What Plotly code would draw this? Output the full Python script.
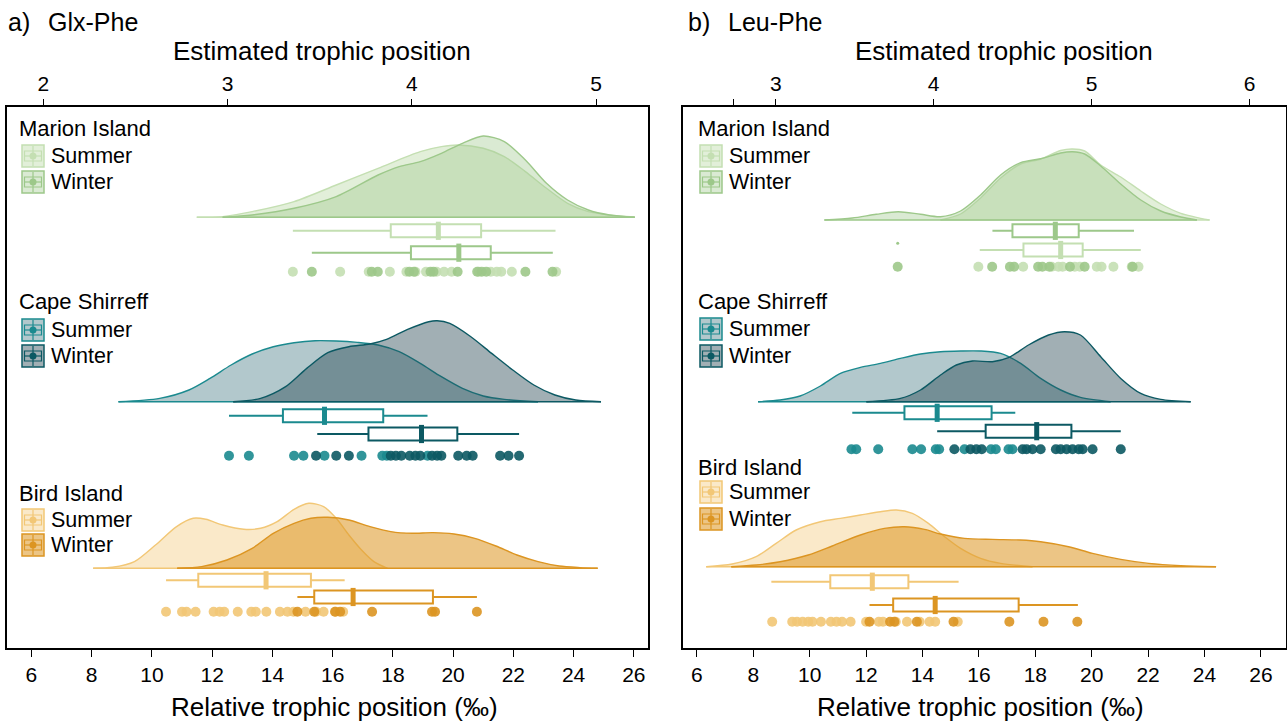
import plotly.graph_objects as go

W, H = 1287, 723

# ======================= DATA =======================
# ---------- Panel a) Glx-Phe ----------
a_marion_summer_pts = [14.68, 16.25, 17.2, 17.9, 18.45, 18.75, 19.1, 19.45, 19.7, 19.95, 20.85, 21.25, 21.45, 21.6, 21.95, 23.42]
a_marion_winter_pts = [15.31, 17.3, 17.5, 18.55, 18.7, 19.25, 19.35, 20.15, 20.8, 20.95, 21.1, 22.4, 23.3]
a_cape_summer_pts = [12.56, 13.22, 14.72, 15.03, 15.73, 16.96, 17.65, 17.8, 19.15]
a_cape_winter_pts = [15.45, 16.12, 16.54, 17.93, 18.1, 18.28, 18.56, 18.75, 18.91, 19.3, 19.47, 19.61, 20.17, 20.45, 20.65, 21.56, 21.84, 22.19]
a_bird_summer_pts = [10.47, 11.0, 11.15, 11.45, 12.05, 12.25, 12.4, 12.85, 13.3, 13.45, 13.8, 14.25, 14.5, 14.7, 15.1, 15.45, 15.7, 16.1, 16.35]
a_bird_winter_pts = [14.83, 15.39, 16.08, 16.25, 17.31, 19.3, 19.4, 20.79]

# box stats: lower whisker, q1, median, q3, upper whisker
a_marion_summer_box = [14.68, 17.93, 19.51, 20.93, 23.40]
a_marion_winter_box = [15.31, 18.60, 20.19, 21.25, 23.31]
a_cape_summer_box = [12.56, 14.35, 15.73, 17.68, 19.15]
a_cape_winter_box = [15.49, 17.19, 18.95, 20.14, 22.19]
a_bird_summer_box = [10.47, 11.54, 13.79, 15.28, 16.40]
a_bird_winter_box = [14.83, 15.39, 16.68, 19.33, 20.79]

# density curves (x in permil, relative density)
a_marion_summer_dx = [11.49, 12.35, 13.33, 14.72, 16.12, 17.51, 18.91, 19.61, 20.17, 21.0, 21.7, 22.4, 23.1, 23.8, 24.49, 25.19, 26.03]
a_marion_summer_dd = [0, 0.007, 0.057, 0.157, 0.323, 0.49, 0.657, 0.707, 0.723, 0.69, 0.607, 0.457, 0.29, 0.14, 0.057, 0.023, 0.003]
a_marion_winter_dx = [12.35, 13.33, 14.72, 16.12, 17.51, 18.21, 18.91, 19.61, 20.31, 21.0, 21.7, 22.4, 23.1, 23.8, 24.49, 25.19, 26.03]
a_marion_winter_dd = [0, 0.023, 0.09, 0.207, 0.423, 0.507, 0.557, 0.64, 0.74, 0.813, 0.757, 0.573, 0.34, 0.173, 0.073, 0.023, 0]
a_cape_summer_dx = [8.89, 10.26, 11.23, 11.93, 12.63, 13.33, 14.03, 14.72, 15.42, 16.12, 16.82, 17.51, 18.21, 18.91, 19.61, 20.31, 21.0, 21.7, 22.82]
a_cape_summer_dd = [0, 0.033, 0.117, 0.233, 0.367, 0.477, 0.55, 0.59, 0.61, 0.607, 0.593, 0.567, 0.5, 0.383, 0.25, 0.133, 0.057, 0.023, 0]
a_cape_winter_dx = [12.7, 13.61, 14.44, 15.14, 15.84, 16.54, 17.24, 17.79, 18.49, 19.19, 19.47, 19.89, 20.59, 21.28, 21.98, 22.68, 23.38, 24.07, 24.91]
a_cape_winter_dd = [0, 0.033, 0.15, 0.333, 0.49, 0.55, 0.577, 0.623, 0.723, 0.8, 0.81, 0.783, 0.65, 0.483, 0.317, 0.167, 0.067, 0.017, 0]
a_bird_summer_dx = [8.05, 8.69, 9.42, 10.12, 10.82, 11.37, 11.79, 12.35, 13.05, 13.61, 14.16, 14.72, 15.21, 15.7, 16.12, 16.54, 16.96, 17.37, 17.82]
a_bird_summer_dd = [0, 0.01, 0.067, 0.233, 0.417, 0.5, 0.49, 0.433, 0.39, 0.4, 0.467, 0.59, 0.65, 0.617, 0.5, 0.333, 0.183, 0.067, 0]
a_bird_winter_dx = [10.84, 11.65, 12.49, 13.33, 14.03, 14.72, 15.28, 15.84, 16.54, 17.24, 17.93, 18.63, 19.33, 20.03, 20.72, 21.42, 22.12, 22.82, 23.52, 24.21, 24.8]
a_bird_winter_dd = [0, 0.017, 0.083, 0.2, 0.35, 0.45, 0.5, 0.51, 0.483, 0.417, 0.367, 0.35, 0.357, 0.343, 0.3, 0.223, 0.133, 0.067, 0.023, 0.007, 0]

# ---------- Panel b) Leu-Phe ----------
b_marion_summer_pts = [15.98, 17.57, 18.58, 18.82, 18.97, 19.4, 19.58, 20.18, 20.35, 20.77, 21.42, 21.66]
b_marion_winter_pts = [13.12, 16.47, 17.1, 17.25, 18.1, 18.25, 18.5, 19.23, 19.75, 21.45]
b_cape_summer_pts = [11.48, 11.65, 12.43, 13.64, 13.95, 14.47, 14.59, 15.49, 16.43, 16.6, 17.05, 17.19]
b_cape_winter_pts = [15.13, 15.7, 15.91, 16.1, 17.55, 17.69, 17.9, 18.19, 18.73, 18.9, 19.11, 19.32, 19.54, 19.68, 20.03, 21.03]
b_bird_summer_pts = [8.67, 9.38, 9.55, 9.75, 9.95, 10.1, 10.4, 10.75, 10.95, 11.15, 11.45, 12.0, 12.45, 12.6, 13.05, 13.45, 13.9, 14.25, 14.45, 15.25]
b_bird_winter_pts = [12.12, 12.85, 13.0, 13.8, 15.1, 17.08, 18.29, 19.49]

b_marion_summer_box = [16.03, 17.58, 18.90, 19.68, 21.74]
b_marion_winter_box = [16.48, 17.19, 18.71, 19.54, 21.50]
b_marion_winter_outliers = [13.12]
b_cape_summer_box = [11.51, 13.36, 14.52, 16.45, 17.29]
b_cape_winter_box = [14.52, 16.24, 18.05, 19.28, 21.03]
b_bird_summer_box = [8.64, 10.73, 12.22, 13.50, 15.28]
b_bird_winter_box = [12.12, 12.96, 14.45, 17.41, 19.51]

b_marion_summer_dx = [14.64, 15.35, 16.06, 16.77, 17.48, 18.19, 18.9, 19.32, 19.75, 20.32, 21.03, 21.74, 22.45, 23.16, 24.18]
b_marion_summer_dd = [0, 0.06, 0.22, 0.42, 0.56, 0.61, 0.695, 0.71, 0.69, 0.55, 0.43, 0.29, 0.16, 0.067, 0]
b_marion_winter_dx = [10.52, 11.51, 12.36, 13.14, 13.93, 14.64, 15.35, 16.06, 16.77, 17.48, 18.19, 18.9, 19.32, 19.75, 20.32, 21.03, 21.74, 22.45, 23.16, 23.73]
b_marion_winter_dd = [0, 0.02, 0.057, 0.083, 0.057, 0.033, 0.09, 0.25, 0.45, 0.573, 0.613, 0.67, 0.683, 0.66, 0.54, 0.36, 0.2, 0.09, 0.03, 0]
b_cape_summer_dx = [8.17, 8.95, 9.66, 10.38, 11.09, 11.8, 12.51, 13.22, 13.93, 14.64, 15.35, 16.06, 16.77, 17.48, 18.19, 18.9, 19.6, 20.67]
b_cape_summer_dd = [0, 0.017, 0.057, 0.157, 0.283, 0.343, 0.383, 0.433, 0.477, 0.5, 0.507, 0.507, 0.483, 0.383, 0.233, 0.117, 0.043, 0]
b_cape_winter_dx = [12.01, 13.22, 13.93, 14.64, 15.2, 15.77, 16.48, 17.05, 17.76, 18.47, 19.04, 19.6, 20.32, 21.03, 21.74, 22.45, 23.51]
b_cape_winter_dd = [0, 0.033, 0.117, 0.267, 0.367, 0.407, 0.4, 0.44, 0.567, 0.667, 0.7, 0.667, 0.45, 0.233, 0.083, 0.023, 0]
b_bird_summer_dx = [6.33, 7.25, 8.1, 8.81, 9.52, 10.38, 11.09, 11.8, 12.51, 13.07, 13.64, 14.21, 14.78, 15.35, 16.06, 16.77, 17.9]
b_bird_summer_dd = [0, 0.027, 0.1, 0.233, 0.367, 0.45, 0.483, 0.517, 0.55, 0.567, 0.533, 0.433, 0.3, 0.183, 0.083, 0.033, 0]
b_bird_winter_dx = [7.22, 8.1, 8.95, 9.95, 10.8, 11.8, 12.65, 13.36, 14.07, 14.64, 15.49, 16.48, 17.48, 18.19, 19.18, 20.03, 21.03, 22.02, 23.16, 24.41]
b_bird_winter_dd = [0, 0.017, 0.05, 0.117, 0.207, 0.317, 0.383, 0.4, 0.373, 0.327, 0.283, 0.273, 0.267, 0.25, 0.2, 0.133, 0.073, 0.033, 0.01, 0]

# axis ticks
rel_ticks = [6, 8, 10, 12, 14, 16, 18, 20, 22, 24, 26]
a_tp_ticks = [2, 3, 4, 5]
b_tp_ticks = [2.73, 3, 4, 5, 6]
b_tp_ticktext = ["", "3", "4", "5", "6"]
sites = ["Marion Island", "Cape Shirreff", "Bird Island"]
seasons = ["Summer", "Winter"]

# ======================= STYLE =======================
FONT = "Liberation Sans, Arial, sans-serif"
DS = 100.0  # y-units per density unit
COL = {
    "Marion Island": dict(s_line="#c4dfb2", s_fill="rgba(197,224,180,0.5)", w_line="#9dc88a", w_fill="rgba(158,201,139,0.38)"),
    "Cape Shirreff": dict(s_line="#1b8a8f", s_fill="rgba(84,133,142,0.45)", w_line="#0c5963", w_fill="rgba(31,64,76,0.42)"),
    "Bird Island": dict(s_line="#f2c776", s_fill="rgba(243,200,119,0.4)", w_line="#dc9522", w_fill="rgba(221,150,32,0.55)"),
}

fig = go.Figure()


def px2x(px):
    return px / W


def py2y(py):
    return 1 - py / H


def add_group(xa, ya, site, lay, s, w):
    c = COL[site]
    # densities (summer first, winter on top)
    for key, d in (("s", s), ("w", w)):
        base = lay["base"]
        fig.add_trace(go.Scatter(x=[d["dx"][0], d["dx"][-1]], y=[base, base], mode="lines",
                                 line=dict(color=c[key + "_line"], width=1.6), xaxis=xa, yaxis=ya,
                                 hoverinfo="skip", showlegend=False))
        fig.add_trace(go.Scatter(x=d["dx"], y=[base + v * DS for v in d["dd"]], mode="lines",
                                 line=dict(color=c[key + "_line"], width=1.4, shape="spline", smoothing=0.8),
                                 fill="tonexty", fillcolor=c[key + "_fill"], xaxis=xa, yaxis=ya,
                                 hoverinfo="skip", showlegend=False))
    # boxes
    for key, d in (("s", s), ("w", w)):
        lo, q1, med, q3, hi = d["box"]
        ypos = lay["box_" + key]
        fig.add_trace(go.Box(orientation="h", y=[ypos], q1=[q1], median=[med], q3=[q3],
                             lowerfence=[lo], upperfence=[hi], width=13, whiskerwidth=0,
                             fillcolor="white", line=dict(color=c[key + "_line"], width=2),
                             boxpoints=False, xaxis=xa, yaxis=ya, hoverinfo="skip", showlegend=False))
        fig.add_trace(go.Scatter(x=[med], y=[ypos], mode="markers",
                                 marker=dict(symbol="line-ns", size=13, line=dict(color=c[key + "_line"], width=5)),
                                 xaxis=xa, yaxis=ya, hoverinfo="skip", showlegend=False))
        if d.get("out"):
            fig.add_trace(go.Scatter(x=d["out"], y=[lay["out"]] * len(d["out"]), mode="markers",
                                     marker=dict(size=3, color=c[key + "_line"]),
                                     xaxis=xa, yaxis=ya, hoverinfo="skip", showlegend=False))
    # points
    for key, d in (("s", s), ("w", w)):
        fig.add_trace(go.Scatter(x=d["pts"], y=[lay["pts"]] * len(d["pts"]), mode="markers",
                                 marker=dict(size=10, color=c[key + "_line"], opacity=0.9),
                                 xaxis=xa, yaxis=ya, hoverinfo="skip", showlegend=False))


def pack(pts, box, dx, dd, out=None):
    return dict(pts=pts, box=box, dx=dx, dd=dd, out=out)


# layout positions (y in px-from-bottom units)
A_LAY = {
    "Marion Island": dict(base=505.7, box_s=492.2, box_w=470.3, pts=451.3, title=128, leg=(156, 182)),
    "Cape Shirreff": dict(base=321.3, box_s=307.2, box_w=289.0, pts=267.3, title=301, leg=(330, 356)),
    "Bird Island": dict(base=154.7, box_s=142.7, box_w=126.0, pts=111.3, title=493, leg=(520, 545)),
}
B_LAY = {
    "Marion Island": dict(base=503.0, box_s=473.0, box_w=492.2, pts=456.3, out=479.7, title=128, leg=(156, 182)),
    "Cape Shirreff": dict(base=321.3, box_s=310.2, box_w=291.8, pts=273.7, title=301, leg=(329, 356)),
    "Bird Island": dict(base=156.3, box_s=141.3, box_w=118.0, pts=101.3, title=467, leg=(492, 519)),
}

add_group("x", "y", "Marion Island", A_LAY["Marion Island"],
          pack(a_marion_summer_pts, a_marion_summer_box, a_marion_summer_dx, a_marion_summer_dd),
          pack(a_marion_winter_pts, a_marion_winter_box, a_marion_winter_dx, a_marion_winter_dd))
add_group("x", "y", "Cape Shirreff", A_LAY["Cape Shirreff"],
          pack(a_cape_summer_pts, a_cape_summer_box, a_cape_summer_dx, a_cape_summer_dd),
          pack(a_cape_winter_pts, a_cape_winter_box, a_cape_winter_dx, a_cape_winter_dd))
add_group("x", "y", "Bird Island", A_LAY["Bird Island"],
          pack(a_bird_summer_pts, a_bird_summer_box, a_bird_summer_dx, a_bird_summer_dd),
          pack(a_bird_winter_pts, a_bird_winter_box, a_bird_winter_dx, a_bird_winter_dd))
add_group("x2", "y2", "Marion Island", B_LAY["Marion Island"],
          pack(b_marion_summer_pts, b_marion_summer_box, b_marion_summer_dx, b_marion_summer_dd),
          pack(b_marion_winter_pts, b_marion_winter_box, b_marion_winter_dx, b_marion_winter_dd, b_marion_winter_outliers))
add_group("x2", "y2", "Cape Shirreff", B_LAY["Cape Shirreff"],
          pack(b_cape_summer_pts, b_cape_summer_box, b_cape_summer_dx, b_cape_summer_dd),
          pack(b_cape_winter_pts, b_cape_winter_box, b_cape_winter_dx, b_cape_winter_dd))
add_group("x2", "y2", "Bird Island", B_LAY["Bird Island"],
          pack(b_bird_summer_pts, b_bird_summer_box, b_bird_summer_dx, b_bird_summer_dd),
          pack(b_bird_winter_pts, b_bird_winter_box, b_bird_winter_dx, b_bird_winter_dd))

# invisible anchors for the top axes
fig.add_trace(go.Scatter(x=[a_tp_ticks[0]], y=[300], xaxis="x3", yaxis="y", mode="markers",
                         marker=dict(opacity=0), hoverinfo="skip", showlegend=False))
fig.add_trace(go.Scatter(x=[b_tp_ticks[1]], y=[300], xaxis="x4", yaxis="y2", mode="markers",
                         marker=dict(opacity=0), hoverinfo="skip", showlegend=False))

# ======================= LAYOUT =======================
YDOM = [75 / H, 616 / H]
A_DOM = [7 / W, 648 / W]
B_DOM = [683 / W, 1286 / W]
tickfont = dict(family=FONT, size=21, color="black")
bottom = dict(showgrid=False, zeroline=False, ticks="outside", ticklen=7, tickwidth=1.2, tickcolor="black",
              showline=True, mirror=True, linecolor="black", linewidth=1.6, tickvals=rel_ticks,
              tickfont=tickfont)
left = dict(showgrid=False, zeroline=False, showticklabels=False, ticks="", showline=True, mirror=True,
            linecolor="black", linewidth=1.6, range=[75, 616], domain=YDOM, fixedrange=True)
top = dict(showgrid=False, zeroline=False, ticks="outside", ticklen=7, tickwidth=1.2, tickcolor="black",
           showline=False, side="top", tickfont=tickfont)

shapes = []
annotations = []


def text(x, y, s, size, xanchor="left"):
    annotations.append(dict(x=px2x(x), y=py2y(y), xref="paper", yref="paper", text=s, showarrow=False,
                            xanchor=xanchor, yanchor="middle", font=dict(family=FONT, size=size, color="black")))


def icon(x0, yc, site, key):
    c = COL[site]
    lc, fc = c[key + "_line"], c[key + "_fill"]
    s = 22
    x1 = x0 + s
    y0, y1 = yc - s / 2, yc + s / 2
    xc = x0 + s / 2
    shapes.append(dict(type="rect", xref="paper", yref="paper", x0=px2x(x0), x1=px2x(x1), y0=py2y(y0), y1=py2y(y1),
                       line=dict(color=lc, width=1.5), fillcolor=fc, layer="above"))
    shapes.append(dict(type="rect", xref="paper", yref="paper", x0=px2x(x0 + 2.5), x1=px2x(x1 - 2.5),
                       y0=py2y(yc - 5), y1=py2y(yc + 5), line=dict(color=lc, width=1.2), layer="above"))
    shapes.append(dict(type="line", xref="paper", yref="paper", x0=px2x(xc), x1=px2x(xc), y0=py2y(y0 + 1), y1=py2y(y1 - 1),
                       line=dict(color=lc, width=1.2), layer="above"))
    shapes.append(dict(type="line", xref="paper", yref="paper", x0=px2x(x0 + 2.5), x1=px2x(x1 - 2.5), y0=py2y(yc), y1=py2y(yc),
                       line=dict(color=lc, width=1.2), layer="above"))
    shapes.append(dict(type="circle", xref="paper", yref="paper", x0=px2x(xc - 3.5), x1=px2x(xc + 3.5),
                       y0=py2y(yc - 3.5), y1=py2y(yc + 3.5), line=dict(color=lc, width=0), fillcolor=lc, layer="above"))


for lay, tx, ix in ((A_LAY, 17, 22), (B_LAY, 696, 700)):
    for site in sites:
        L = lay[site]
        text(tx, L["title"], site, 22)
        for key, season, yy in (("s", seasons[0], L["leg"][0]), ("w", seasons[1], L["leg"][1])):
            icon(ix, yy, site, key)
            text(ix + 27, yy, season, 21.5)

text(6, 22, "a)", 25)
text(46, 22, "Glx-Phe", 25)
text(686, 22, "b)", 25)
text(726, 22, "Leu-Phe", 25)
text(322, 51, "Estimated trophic position", 26, "center")
text(1004, 51, "Estimated trophic position", 26, "center")
text(334, 707, "Relative trophic position (‰)", 26, "center")
text(981, 707, "Relative trophic position (‰)", 26, "center")

fig.update_layout(
    width=W, height=H, margin=dict(l=0, r=0, t=0, b=0),
    paper_bgcolor="white", plot_bgcolor="white", showlegend=False, hovermode=False,
    font=dict(family=FONT, color="black"),
    xaxis=dict(bottom, domain=A_DOM, range=[5.19, 26.47], anchor="y"),
    yaxis=dict(left, anchor="x"),
    xaxis2=dict(bottom, domain=B_DOM, range=[5.507, 26.89], anchor="y2"),
    yaxis2=dict(left, anchor="x2"),
    xaxis3=dict(top, overlaying="x", anchor="y", range=[1.803, 5.281], tickvals=a_tp_ticks),
    xaxis4=dict(top, overlaying="x2", anchor="y2", range=[2.413, 6.23], tickvals=b_tp_ticks, ticktext=b_tp_ticktext),
    shapes=shapes, annotations=annotations,
)

fig.write_html("out.html")
